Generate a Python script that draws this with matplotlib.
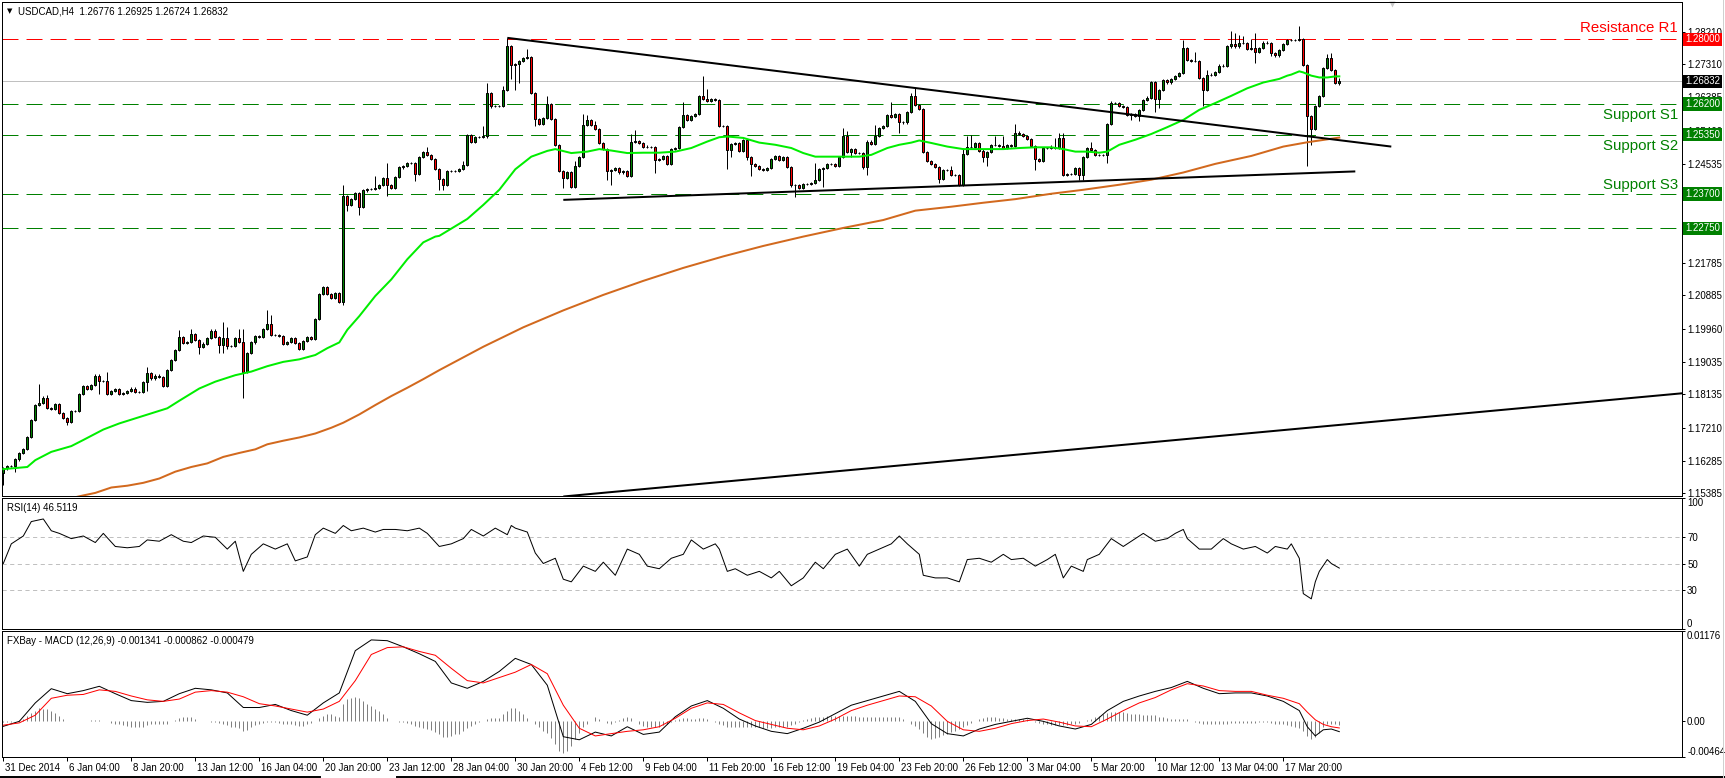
import numpy as np
import matplotlib
matplotlib.use("Agg")
import matplotlib.pyplot as plt
from matplotlib.lines import Line2D
from matplotlib.transforms import blended_transform_factory as blend, ScaledTranslation

plt.rcParams['font.family'] = ['Liberation Sans', 'DejaVu Sans']
plt.rcParams['lines.scale_dashes'] = False

# USDCAD H4 bars, 31 Dec 2014 .. 19 Mar 2015
first_open = 1.1594
closes = [
    1.1608, 1.1615, 1.1615, 1.1633, 1.1650, 1.1661, 1.1696, 1.1742, 1.1784, 1.1791,
    1.1805, 1.1775, 1.1772, 1.1787, 1.1761, 1.1747, 1.1738, 1.1768, 1.1768, 1.1814,
    1.1837, 1.1828, 1.1840, 1.1866, 1.1851, 1.1851, 1.1814, 1.1823, 1.1828, 1.1816,
    1.1818, 1.1823, 1.1830, 1.1821, 1.1821, 1.1849, 1.1872, 1.1858, 1.1866, 1.1863,
    1.1838, 1.1881, 1.1909, 1.1937, 1.1972, 1.1957, 1.1960, 1.1981, 1.1965, 1.1946,
    1.1955, 1.1970, 1.1991, 1.1974, 1.1950, 1.1969, 1.1948, 1.1948, 1.1969, 1.1960,
    1.1877, 1.1928, 1.1958, 1.1977, 1.1974, 1.1995, 1.2008, 1.1979, 1.1979, 1.1977,
    1.1955, 1.1960, 1.1969, 1.1957, 1.1939, 1.1963, 1.1972, 1.1967, 1.2022, 1.2093,
    1.2111, 1.2093, 1.2081, 1.2095, 1.2071, 1.2365, 1.2339, 1.2356, 1.2373, 1.2334,
    1.2380, 1.2384, 1.2384, 1.2386, 1.2396, 1.2414, 1.2396, 1.2388, 1.2417, 1.2444,
    1.2447, 1.2456, 1.2456, 1.2426, 1.2473, 1.2488, 1.2479, 1.2467, 1.2439, 1.2412,
    1.2396, 1.2435, 1.2433, 1.2433, 1.2439, 1.2451, 1.2535, 1.2516, 1.2528, 1.2528,
    1.2530, 1.2651, 1.2615, 1.2615, 1.2615, 1.2660, 1.2782, 1.2729, 1.2731, 1.2739,
    1.2748, 1.2750, 1.2651, 1.2579, 1.2565, 1.2581, 1.2620, 1.2579, 1.2507, 1.2433,
    1.2414, 1.2430, 1.2391, 1.2449, 1.2474, 1.2562, 1.2576, 1.2562, 1.2551, 1.2513,
    1.2495, 1.2433, 1.2437, 1.2442, 1.2430, 1.2433, 1.2421, 1.2516, 1.2518, 1.2513,
    1.2502, 1.2500, 1.2500, 1.2465, 1.2467, 1.2476, 1.2454, 1.2495, 1.2498, 1.2556,
    1.2590, 1.2576, 1.2588, 1.2593, 1.2643, 1.2634, 1.2628, 1.2634, 1.2632, 1.2560,
    1.2558, 1.2493, 1.2510, 1.2513, 1.2491, 1.2521, 1.2474, 1.2453, 1.2447, 1.2440,
    1.2436, 1.2442, 1.2467, 1.2476, 1.2465, 1.2474, 1.2445, 1.2394, 1.2396, 1.2386,
    1.2398, 1.2398, 1.2400, 1.2410, 1.2439, 1.2442, 1.2454, 1.2454, 1.2447, 1.2474,
    1.2532, 1.2488, 1.2495, 1.2484, 1.2484, 1.2444, 1.2516, 1.2510, 1.2532, 1.2553,
    1.2558, 1.2590, 1.2584, 1.2593, 1.2569, 1.2569, 1.2597, 1.2643, 1.2618, 1.2606,
    1.2486, 1.2463, 1.2453, 1.2445, 1.2411, 1.2437, 1.2437, 1.2424, 1.2424, 1.2396,
    1.2482, 1.2502, 1.2500, 1.2512, 1.2491, 1.2473, 1.2488, 1.2507, 1.2507, 1.2504,
    1.2498, 1.2507, 1.2504, 1.2539, 1.2537, 1.2532, 1.2524, 1.2504, 1.2467, 1.2461,
    1.2498, 1.2498, 1.2502, 1.2498, 1.2526, 1.2424, 1.2426, 1.2426, 1.2442, 1.2424,
    1.2474, 1.2498, 1.2493, 1.2479, 1.2479, 1.2479, 1.2565, 1.2623, 1.2623, 1.2615,
    1.2612, 1.2590, 1.2593, 1.2586, 1.2604, 1.2632, 1.2636, 1.2680, 1.2634, 1.2658,
    1.2688, 1.2680, 1.2690, 1.2699, 1.2706, 1.2776, 1.2743, 1.2739, 1.2739, 1.2692,
    1.2658, 1.2702, 1.2702, 1.2708, 1.2727, 1.2727, 1.2780, 1.2788, 1.2780, 1.2790,
    1.2790, 1.2773, 1.2776, 1.2766, 1.2776, 1.2791, 1.2790, 1.2762, 1.2755, 1.2771,
    1.2788, 1.2799, 1.2797, 1.2797, 1.2800, 1.2729, 1.2588, 1.2551, 1.2615, 1.2643,
    1.2720, 1.2748, 1.2714, 1.26776, 1.26832,
]
# wick lengths beyond the body, in pips
up_wick = [
    3, 3, 3, 3, 3, 3, 3, 3, 3, 51,
    3, 7, 3, 3, 3, 3, 3, 3, 3, 3,
    3, 3, 3, 3, 3, 3, 24, 3, 3, 3,
    3, 3, 3, 3, 3, 3, 18, 3, 3, 3,
    3, 3, 3, 3, 21, 3, 3, 13, 3, 3,
    3, 3, 3, 3, 3, 47, 31, 3, 3, 26,
    35, 3, 3, 3, 3, 3, 40, 26, 3, 3,
    3, 3, 3, 3, 3, 3, 3, 3, 3, 3,
    3, 3, 3, 3, 3, 31, 3, 3, 3, 3,
    3, 3, 3, 35, 3, 3, 42, 3, 3, 3,
    3, 3, 3, 3, 3, 3, 13, 3, 3, 3,
    3, 3, 3, 3, 3, 10, 3, 3, 3, 3,
    30, 27, 3, 3, 3, 11, 22, 3, 3, 3,
    3, 23, 3, 3, 3, 3, 23, 3, 3, 3,
    3, 3, 3, 12, 3, 31, 14, 3, 10, 3,
    3, 3, 3, 3, 3, 3, 3, 21, 29, 3,
    3, 3, 3, 3, 3, 3, 3, 3, 3, 3,
    37, 3, 3, 3, 3, 56, 28, 3, 3, 3,
    3, 3, 3, 3, 3, 3, 3, 3, 3, 3,
    3, 3, 3, 3, 3, 3, 3, 3, 3, 3,
    3, 3, 3, 46, 3, 3, 3, 3, 3, 3,
    21, 12, 3, 3, 3, 3, 3, 3, 30, 3,
    3, 3, 35, 3, 3, 3, 3, 8, 21, 3,
    3, 3, 3, 3, 3, 3, 3, 11, 3, 3,
    16, 28, 33, 3, 3, 3, 3, 3, 23, 3,
    26, 3, 3, 26, 5, 3, 3, 3, 3, 3,
    3, 3, 3, 24, 13, 15, 3, 3, 3, 3,
    3, 4, 18, 3, 3, 3, 3, 6, 3, 3,
    3, 3, 3, 3, 3, 3, 7, 3, 3, 3,
    3, 3, 3, 3, 3, 23, 3, 3, 27, 3,
    3, 12, 3, 3, 3, 3, 3, 34, 29, 23,
    20, 3, 25, 41, 3, 3, 3, 3, 3, 3,
    3, 3, 3, 3, 36, 3, 3, 3, 3, 3,
    3, 12, 14, 3, 9,
]
dn_wick = [
    31, 3, 3, 16, 3, 3, 3, 3, 3, 3,
    3, 3, 3, 3, 3, 3, 8, 3, 3, 3,
    3, 3, 3, 3, 37, 3, 3, 3, 3, 3,
    3, 3, 3, 3, 3, 3, 25, 3, 3, 3,
    3, 3, 3, 3, 3, 3, 3, 3, 3, 21,
    3, 3, 3, 3, 22, 22, 9, 3, 3, 3,
    74, 3, 3, 3, 3, 3, 3, 3, 3, 3,
    3, 3, 3, 3, 3, 3, 3, 3, 3, 3,
    3, 3, 3, 3, 3, 9, 15, 3, 3, 22,
    3, 3, 3, 3, 3, 3, 31, 3, 3, 3,
    3, 3, 3, 21, 3, 3, 3, 3, 3, 30,
    14, 3, 3, 3, 3, 3, 3, 3, 3, 3,
    3, 3, 6, 3, 3, 3, 3, 40, 69, 53,
    3, 3, 3, 19, 3, 3, 3, 3, 3, 3,
    28, 3, 3, 3, 3, 3, 3, 3, 3, 3,
    3, 23, 37, 3, 3, 3, 3, 3, 3, 3,
    3, 3, 3, 37, 3, 3, 3, 3, 3, 3,
    3, 3, 3, 3, 3, 3, 3, 3, 3, 3,
    3, 54, 19, 3, 3, 3, 9, 32, 3, 3,
    3, 3, 3, 3, 3, 3, 3, 3, 33, 3,
    3, 3, 3, 3, 3, 50, 3, 3, 3, 3,
    3, 3, 14, 3, 3, 3, 20, 3, 3, 3,
    3, 3, 3, 3, 30, 3, 3, 3, 3, 3,
    3, 3, 3, 3, 11, 3, 3, 3, 3, 3,
    3, 3, 3, 3, 3, 15, 26, 3, 3, 3,
    3, 3, 3, 3, 3, 3, 3, 3, 31, 3,
    3, 3, 3, 3, 3, 3, 3, 3, 3, 16,
    16, 3, 3, 3, 3, 3, 23, 3, 3, 3,
    3, 3, 14, 3, 12, 3, 3, 3, 37, 25,
    3, 3, 3, 3, 3, 3, 3, 3, 3, 3,
    43, 3, 3, 3, 3, 3, 3, 3, 3, 3,
    3, 3, 3, 32, 3, 3, 3, 8, 4, 3,
    3, 3, 3, 3, 3, 3, 141, 44, 3, 3,
    3, 3, 3, 3, 5,
]

# moving averages, (bar, price)
ma_fast = [
    (0, 1.1606), (6, 1.1612), (8, 1.1631), (12, 1.1654), (17, 1.1670), (20, 1.1687),
    (25, 1.1716), (29, 1.1733), (33, 1.1747), (37, 1.1761), (41, 1.1775), (44, 1.1796),
    (49, 1.1830), (53, 1.1849), (58, 1.1867), (62, 1.1877), (66, 1.1892), (70, 1.1904),
    (74, 1.1911), (78, 1.1923), (81, 1.1942), (84, 1.1958), (86, 1.1993), (89, 1.2031),
    (93, 1.2087), (97, 1.2133), (101, 1.2189), (105, 1.2236), (108, 1.2252), (109, 1.2254),
    (116, 1.2301), (120, 1.2340), (124, 1.2382), (128, 1.2439), (132, 1.2474), (136, 1.2490),
    (138, 1.2495), (142, 1.2484), (146, 1.2488), (149, 1.2495), (152, 1.2491), (156, 1.2484),
    (160, 1.2485), (164, 1.2485), (168, 1.2488), (172, 1.2498), (176, 1.2516), (179, 1.2528),
    (181, 1.2530), (185, 1.2526), (189, 1.2513), (193, 1.2507), (197, 1.2498), (200, 1.2484),
    (203, 1.2474), (207, 1.2474), (211, 1.2474), (214, 1.2474), (217, 1.2479), (221, 1.2498),
    (224, 1.2507), (227, 1.2513), (229, 1.2519), (232, 1.2512), (236, 1.2502), (240, 1.2495),
    (245, 1.2495), (250, 1.2495), (254, 1.2498), (258, 1.2500), (262, 1.2500), (265, 1.2495),
    (268, 1.2488), (271, 1.2488), (274, 1.2485), (276, 1.2488), (279, 1.2507), (283, 1.2521),
    (287, 1.2537), (291, 1.2556), (295, 1.2576), (299, 1.2604), (303, 1.2623), (307, 1.2643),
    (311, 1.2664), (315, 1.2680), (319, 1.2690), (321, 1.2699), (322, 1.2702), (324, 1.2711),
    (325, 1.2708), (327, 1.2699), (329, 1.2694), (331, 1.2694), (333, 1.2697), (334, 1.2697),
]
ma_slow = [
    (18, 1.1528), (20, 1.1533), (23, 1.1540), (27, 1.1555), (31, 1.1560), (35, 1.1568),
    (39, 1.1580), (43, 1.1599), (47, 1.1612), (51, 1.1622), (55, 1.1640), (59, 1.1651),
    (63, 1.1661), (66, 1.1675), (70, 1.1685), (74, 1.1694), (78, 1.1705), (82, 1.1721),
    (85, 1.1735), (89, 1.1758), (93, 1.1784), (97, 1.1809), (101, 1.1832), (105, 1.1856),
    (109, 1.1881), (120, 1.1946), (130, 1.2000), (140, 1.2047), (150, 1.2090), (160, 1.2129),
    (170, 1.2165), (180, 1.2197), (190, 1.2226), (200, 1.2252), (210, 1.2276), (220, 1.2298),
    (228, 1.2324), (237, 1.2335), (245, 1.2346), (253, 1.2356), (262, 1.2371), (270, 1.2382),
    (279, 1.2396), (287, 1.2410), (295, 1.2430), (303, 1.2454), (312, 1.2476), (320, 1.2502),
    (326, 1.2514), (334, 1.2527),
]

# hand-drawn lines: (bar, price) end points
trend_lines = [
    [(126, 1.2804), (347, 1.2502)],
    [(140, 1.2354), (338, 1.2433)],
    [(140, 1.1530), (420, 1.1817)],
]
resistance = [(1.2800, 'Resistance R1')]
supports = [(1.2620, 'Support S1'), (1.2535, 'Support S2'), (1.2370, 'Support S3'), (1.2275, None)]
price_ticks = [1.28210, 1.27310, 1.26385, 1.25460, 1.24535, 1.23610, 1.22685, 1.21785,
               1.20885, 1.19960, 1.19035, 1.18135, 1.17210, 1.16285, 1.15385]
hidden_ticks = [1.23610, 1.22685]   # covered by the level boxes

rsi_points = [
    (0, 50), (2, 65), (5, 71), (7, 82), (10, 84), (12, 75), (14, 73), (17, 69), (20, 71),
    (23, 66), (25, 73), (28, 63), (31, 62), (34, 63), (36, 68), (39, 67), (42, 72), (45, 67),
    (47, 66), (50, 71), (53, 70), (56, 61), (58, 67), (60, 44), (62, 57), (65, 65), (68, 61),
    (71, 65), (73, 52), (76, 55), (78, 72), (80, 77), (83, 73), (85, 79), (87, 75), (90, 77),
    (93, 74), (95, 76), (98, 76), (101, 75), (104, 77), (106, 73), (109, 63), (112, 65),
    (115, 69), (117, 76), (120, 71), (123, 77), (126, 72), (127, 79), (128, 77), (131, 74),
    (133, 58), (135, 50), (138, 54), (140, 38), (142, 36), (145, 48), (148, 44), (150, 51),
    (153, 41), (156, 61), (159, 57), (161, 48), (164, 46), (167, 54), (170, 57), (172, 68),
    (175, 61), (178, 65), (179, 61), (181, 44), (183, 46), (186, 41), (189, 44), (192, 39),
    (194, 44), (197, 33), (200, 39), (203, 51), (205, 46), (208, 57), (211, 61), (214, 48),
    (216, 57), (219, 61), (222, 65), (224, 71), (226, 65), (229, 57), (230, 41), (233, 39),
    (236, 39), (239, 36), (241, 53), (244, 54), (247, 51), (250, 57), (252, 53), (255, 54),
    (258, 48), (261, 53), (263, 57), (265, 39), (267, 48), (270, 44), (271, 53), (274, 57),
    (277, 69), (280, 63), (282, 67), (285, 73), (288, 67), (291, 69), (293, 73), (295, 76),
    (296, 69), (299, 61), (302, 61), (305, 69), (307, 65), (310, 61), (313, 63), (316, 58),
    (318, 63), (321, 61), (322, 65), (324, 54), (325, 27), (327, 23), (328, 36), (329, 44),
    (331, 53), (332, 50), (334, 46.5),
]

macd_main = [
    (0, -0.00065), (4, 0.0), (8, 0.0024), (12, 0.00425), (16, 0.0036), (20, 0.0040),
    (24, 0.00456), (28, 0.0036), (32, 0.0027), (36, 0.00247), (40, 0.0026), (44, 0.0036),
    (48, 0.0043), (52, 0.0041), (56, 0.0037), (60, 0.0018), (64, 0.0018), (68, 0.0022),
    (72, 0.0014), (76, 0.0008), (80, 0.0024), (84, 0.0037), (88, 0.0092), (92, 0.0106),
    (96, 0.0105), (100, 0.0097), (104, 0.0088), (108, 0.0078), (112, 0.0050), (116, 0.0043),
    (120, 0.0052), (124, 0.0065), (128, 0.0082), (132, 0.0074), (136, 0.0047), (140, -0.0020),
    (144, -0.0024), (148, -0.0014), (152, -0.0019), (156, -0.0007), (160, -0.0017),
    (164, -0.0014), (168, 0.0006), (172, 0.0020), (176, 0.0027), (180, 0.0017), (184, 0.0003),
    (188, -0.0006), (192, -0.0013), (196, -0.0016), (200, -0.0009), (204, -0.0001),
    (208, 0.0010), (212, 0.0021), (216, 0.0027), (220, 0.0033), (224, 0.0039), (228, 0.0026),
    (232, -0.0003), (236, -0.0016), (240, -0.0019), (244, -0.0010), (248, -0.0004), (252, 0.0),
    (256, 0.0004), (260, 0.0), (264, -0.0006), (268, -0.0010), (272, -0.0004), (276, 0.0014),
    (280, 0.0026), (284, 0.0033), (288, 0.0039), (292, 0.0044), (296, 0.0052), (300, 0.0043),
    (304, 0.0036), (308, 0.0037), (312, 0.0037), (316, 0.0033), (320, 0.0026), (324, 0.0014),
    (326, -0.0007), (328, -0.0019), (330, -0.0011), (332, -0.0010), (334, -0.001341),
]
macd_signal = [
    (0, -0.0005), (4, -0.0002), (8, 0.0008), (12, 0.0030), (16, 0.0034), (20, 0.0035),
    (24, 0.0041), (28, 0.0039), (32, 0.0033), (36, 0.0028), (40, 0.0026), (44, 0.0029),
    (48, 0.0038), (52, 0.0040), (56, 0.0038), (60, 0.0032), (64, 0.0023), (68, 0.0020),
    (72, 0.0016), (76, 0.0012), (80, 0.0016), (84, 0.0026), (88, 0.0053), (92, 0.0087),
    (96, 0.0096), (100, 0.0097), (104, 0.0091), (108, 0.0086), (112, 0.0069), (116, 0.0053),
    (120, 0.0050), (124, 0.0057), (128, 0.0064), (132, 0.0074), (136, 0.0062), (140, 0.0021),
    (144, -0.0009), (148, -0.0019), (152, -0.0016), (156, -0.0013), (160, -0.0011),
    (164, -0.0007), (168, 0.0004), (172, 0.0017), (176, 0.0024), (180, 0.0022), (184, 0.0011),
    (188, 0.0001), (192, -0.0004), (196, -0.0009), (200, -0.0011), (204, -0.0006),
    (208, 0.0003), (212, 0.0014), (216, 0.0021), (220, 0.0027), (224, 0.0033), (228, 0.0032),
    (232, 0.0020), (236, 0.0), (240, -0.0011), (244, -0.0013), (248, -0.0009), (252, -0.0003),
    (256, 0.0001), (260, 0.0003), (264, -0.0001), (268, -0.0006), (272, -0.0007), (276, 0.0003),
    (280, 0.0014), (284, 0.0024), (288, 0.0031), (292, 0.0041), (296, 0.0049), (300, 0.0046),
    (304, 0.0040), (308, 0.0039), (312, 0.0039), (316, 0.0034), (320, 0.0030), (324, 0.0023),
    (326, 0.0012), (328, 0.0002), (330, -0.0004), (332, -0.0007), (334, -0.000862),
]
# histogram per bar, units of 1e-4
macd_hist_e4 = [
    -1, -1, -1, 0, 2, 3, 7, 11, 14, 17,
    16, 16, 14, 11, 7, 3, 1, 0, 0, 1,
    1, 1, 2, 2, 2, 1, 0, -2, -3, -3,
    -5, -6, -7, -8, -7, -7, -5, -4, -3, -3,
    -3, -3, 0, 2, 4, 5, 6, 5, 3, 1,
    0, 0, -1, -1, -2, -3, -5, -7, -8, -9,
    -12, -11, -8, -5, -3, -2, -1, -1, -1, -2,
    -3, -3, -4, -5, -6, -6, -4, -2, 1, 4,
    7, 9, 9, 7, 6, 22, 29, 31, 32, 30,
    26, 23, 20, 16, 14, 10, 4, 1, 0, -1,
    -1, -2, -3, -6, -8, -9, -10, -11, -14, -17,
    -20, -20, -19, -17, -16, -13, -9, -6, -3, -1,
    1, 3, 4, 4, 4, 10, 14, 17, 18, 14,
    9, 4, 0, -4, -8, -12, -15, -22, -30, -38,
    -41, -38, -32, -23, -15, -8, -3, 1, 5, 3,
    1, -2, -3, -1, 2, 4, 6, 4, 1, -3,
    -6, -7, -7, -7, -7, -5, -3, -1, 2, 3,
    4, 4, 3, 3, 4, 4, 3, 1, -1, -3,
    -5, -7, -8, -8, -8, -7, -7, -7, -7, -8,
    -9, -9, -9, -8, -8, -7, -7, -5, -3, -1,
    2, 3, 4, 5, 5, 6, 7, 7, 7, 7,
    7, 7, 7, 7, 6, 6, 6, 6, 6, 6,
    6, 6, 6, 6, 6, 3, 0, -3, -6, -10,
    -15, -20, -23, -22, -20, -18, -16, -14, -12, -10,
    -8, -5, -2, 1, 3, 4, 5, 5, 5, 4,
    4, 3, 3, 3, 3, 3, 3, 1, -1, -2,
    -3, -4, -5, -5, -5, -5, -5, -4, -4, -2,
    0, 2, 3, 5, 7, 9, 11, 12, 12, 12,
    12, 11, 10, 9, 9, 8, 8, 8, 8, 6,
    5, 4, 3, 3, 3, 3, 3, 1, -1, -2,
    -3, -4, -4, -4, -4, -3, -3, -2, -2, -2,
    -2, -2, -2, -2, -1, -1, -1, -2, -3, -4,
    -4, -5, -6, -8, -9, -13, -19, -23, -21, -15,
    -7, -3, -3, -4, -5,
]

date_labels = ['31 Dec 2014', '6 Jan 04:00', '8 Jan 20:00', '13 Jan 12:00', '16 Jan 04:00',
               '20 Jan 20:00', '23 Jan 12:00', '28 Jan 04:00', '30 Jan 20:00', '4 Feb 12:00',
               '9 Feb 04:00', '11 Feb 20:00', '16 Feb 12:00', '19 Feb 04:00', '23 Feb 20:00',
               '26 Feb 12:00', '3 Mar 04:00', '5 Mar 20:00', '10 Mar 12:00', '13 Mar 04:00',
               '17 Mar 20:00']
date_bars = list(range(0, 321, 16))

W, H = 1725, 778
PX = 0.72  # one pixel in points
RED, GREEN = '#FF0000', '#008000'

fig = plt.figure(figsize=(W / 100, H / 100), dpi=100)


def panel(top, bottom):
    a = fig.add_axes([2 / W, 1 - bottom / H, 1680 / W, (bottom - top) / H])
    for s in a.spines.values():
        s.set_linewidth(PX)
    a.set_xlim(-0.325, 419.675)
    a.yaxis.tick_right()
    a.tick_params(axis='y', direction='out', length=3 * PX, width=PX, pad=1.5, labelsize=7)
    a.tick_params(axis='x', bottom=False, labelbottom=False)
    return a


# ---------------- price panel ----------------
ax = panel(2, 496)
ax.set_ylim(1.15314, 1.29036)

c = np.array(closes)
o = np.r_[first_open, c[:-1]]
hi = np.maximum(o, c) + np.array(up_wick) * 1e-4
lo = np.minimum(o, c) - np.array(dn_wick) * 1e-4
x = np.arange(len(c))
up = c >= o

dash = (0, (11.5, 5.8))
for lvl, _ in resistance:
    ax.axhline(lvl, color=RED, lw=PX, ls=dash, zorder=1)
for lvl, _ in supports:
    ax.axhline(lvl, color=GREEN, lw=PX, ls=dash, zorder=1)
ax.axhline(c[-1], color='#C0C0C0', lw=PX, zorder=1)

ax.vlines(x, lo, hi, color='black', lw=PX, zorder=3)
ax.bar(x[up], (c - o)[up], bottom=o[up], width=0.5, color=GREEN, edgecolor='black', lw=PX, zorder=3)
ax.bar(x[~up], (o - c)[~up], bottom=c[~up], width=0.5, color=RED, edgecolor='black', lw=PX, zorder=3)

fx, fy = zip(*ma_fast)
ax.plot(fx, fy, color='#00EE00', lw=2 * PX, zorder=4)
sx, sy = zip(*ma_slow)
ax.plot(sx, sy, color='#D2691E', lw=2 * PX, zorder=4)
for (x0, y0), (x1, y1) in trend_lines:
    ax.plot([x0, x1], [y0, y1], color='black', lw=2 * PX, zorder=5, solid_capstyle='butt')

ax.set_yticks(price_ticks)
ax.set_yticklabels(['' if t in hidden_ticks else f'{t:.5f}' for t in price_ticks])

yblend = blend(ax.transAxes, ax.transData)
for lvl, name in resistance:
    ax.annotate(name, xy=(1, lvl), xycoords=yblend, xytext=(-4, 11), textcoords='offset pixels',
                ha='right', va='center', color=RED, fontsize=10.8, zorder=6)
for (lvl, name), dy in zip(supports, (-11, -11, 9, 0)):
    if name:
        ax.annotate(name, xy=(1, lvl), xycoords=yblend, xytext=(-4, dy), textcoords='offset pixels',
                    ha='right', va='center', color=GREEN, fontsize=10.8, zorder=6)

boxes = [(resistance[0][0], RED), (c[-1], 'black')] + [(lvl, GREEN) for lvl, _ in supports]
for lvl, col in boxes:
    ax.annotate(f'{lvl:.5f}', xy=(1, lvl), xycoords=yblend, xytext=(3, 0), textcoords='offset pixels',
                ha='left', va='center', color='white', fontsize=7, annotation_clip=False,
                bbox=dict(boxstyle='square,pad=0.18', fc=col, ec='none'), zorder=7)

ax.plot([347.2], [0.995], marker='v', ms=5, color='#C8C8C8', mec='none',
        transform=blend(ax.transData, ax.transAxes), clip_on=False)

fig.text(7 / W, 1 - 11 / H, '\u25BC', fontsize=5, va='center', family=['DejaVu Sans'])
fig.text(18 / W, 1 - 11 / H, 'USDCAD,H4  1.26776 1.26925 1.26724 1.26832', fontsize=7, va='center')

# ---------------- RSI panel ----------------
ax2 = panel(498, 629)
ax2.set_ylim(0, 100)
for lvl in (70, 50, 30):
    ax2.axhline(lvl, color='#C0C0C0', lw=PX, ls=(0, (3, 2.5)), zorder=1)
rx, ry = zip(*rsi_points)
ax2.plot(rx, ry, color='black', lw=PX, zorder=3)
ax2.set_yticks([100, 70, 50, 30, 0])
ax2.set_yticklabels(['100', '70', '50', '30', '0'])
lbls = ax2.get_yticklabels()
lbls[0].set_va('top')
lbls[-1].set_va('bottom')
fig.text(7 / W, 1 - 508 / H, 'RSI(14) 46.5119', fontsize=7, va='center')

# ---------------- MACD panel ----------------
ax3 = panel(631, 757)
ax3.set_ylim(-0.004642, 0.01176)
hist = np.array(macd_hist_e4) * 1e-4
ax3.vlines(np.arange(len(hist)), 0, hist, color='#808080', lw=PX, zorder=2)
mx, my = zip(*macd_main)
ax3.plot(mx, my, color='black', lw=PX, zorder=3)
gx, gy = zip(*macd_signal)
ax3.plot(gx, gy, color=RED, lw=PX, zorder=3)
ax3.set_yticks([0.01176, 0.0, -0.004642])
ax3.set_yticklabels(['0.01176', '0.00', '-0.004642'])
lbls = ax3.get_yticklabels()
lbls[0].set_va('top')
lbls[-1].set_va('bottom')
fig.text(7 / W, 1 - 641 / H, 'FXBay - MACD (12,26,9) -0.001341 -0.000862 -0.000479', fontsize=7, va='center')

ax3.set_xticks(date_bars)
ax3.set_xticklabels(date_labels, ha='left')
ax3.tick_params(axis='x', bottom=True, labelbottom=True, direction='out', length=4 * PX,
                width=PX, pad=1.5, labelsize=7)
shift = ScaledTranslation(2 / 100, 0, fig.dpi_scale_trans)
for lbl in ax3.get_xticklabels():
    lbl.set_transform(lbl.get_transform() + shift)

# window frame bits
fig.add_artist(Line2D([0, 320 / W], [1.5 / H, 1.5 / H], color='black', lw=1.4))
fig.add_artist(Line2D([397 / W, 1], [1.5 / H, 1.5 / H], color='black', lw=1.4))
fig.add_artist(Line2D([1723 / W, 1723 / W], [0, 1], color='#D0D0D0', lw=PX))

fig.savefig('out.png', dpi=100)
